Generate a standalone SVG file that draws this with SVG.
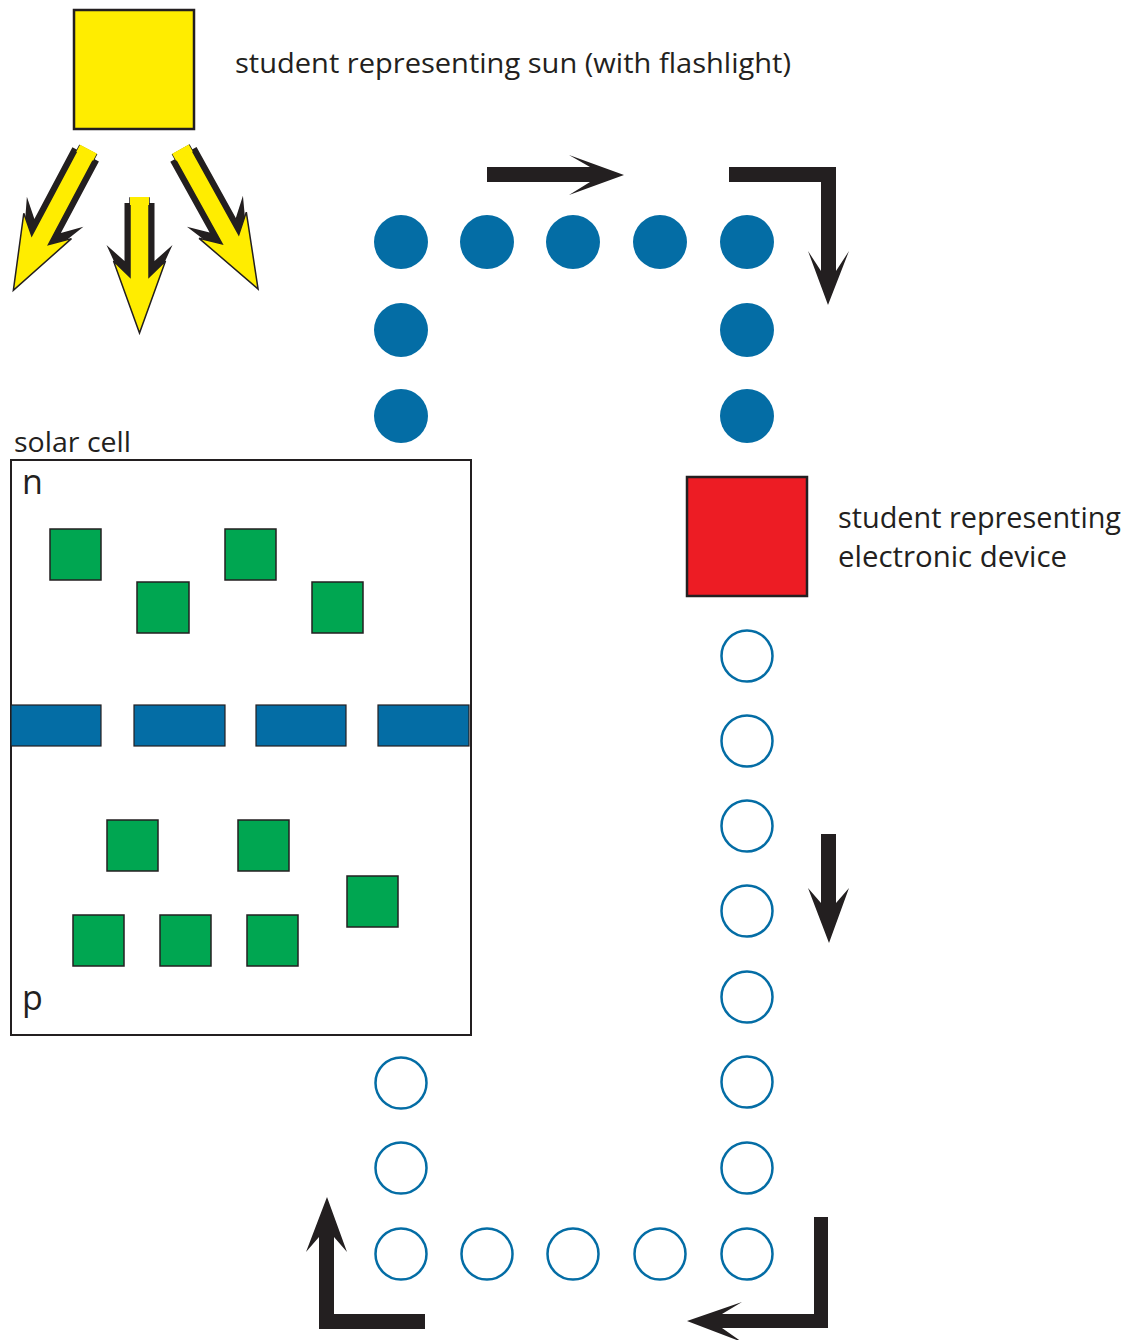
<svg xmlns="http://www.w3.org/2000/svg" width="1139" height="1340" viewBox="0 0 1139 1340">
<style>
.lbl{font-family:"Open Sans","Noto Sans","Liberation Sans",sans-serif;fill:#231F20;}
.sq{stroke:#231F20;stroke-width:2.5;}
.grn{fill:#00A651;stroke:#231F20;stroke-width:1.5;}
.bar{fill:#046DA5;stroke:#231F20;stroke-width:1.2;}
.e{fill:#046DA5;}
.h{fill:#fff;stroke:#046DA5;stroke-width:2.5;}
.arr{fill:#231F20;}
.ray{fill:#FFED00;stroke:#231F20;stroke-width:1.5;stroke-linejoin:miter;}
.rayb{fill:#231F20;}
.cap{fill:#FFED00;}
</style>
<rect width="1139" height="1340" fill="#fff"/>

<g id="sun">
<rect class="sq" x="74" y="10" width="120" height="119" fill="#FFED00"/>
<text class="lbl" x="235" y="73" font-size="28" textLength="556" lengthAdjust="spacingAndGlyphs">student representing sun (with flashlight)</text>
</g>

<g id="light-rays">
<g transform="translate(88,150) rotate(28)">
<path class="rayb" d="M-15,5 L15,5 L15,86 L32,70 L0,143 L-32,70 L-15,86 Z"/>
<path class="ray" d="M-9.5,0 L9.5,0 L9.5,102 L27,86 L0,159 L-27,86 L-9.5,102 Z"/>
<rect class="cap" x="-9.5" y="-1" width="19" height="8"/>
</g>
<g transform="translate(139.5,198)">
<path class="rayb" d="M-15,5 L15,5 L15,63 L33,47 L0,119 L-33,47 L-15,63 Z"/>
<path class="ray" d="M-9.5,0 L9.5,0 L9.5,79 L26,63 L0,135 L-26,63 L-9.5,79 Z"/>
<rect class="cap" x="-9.5" y="-1" width="19" height="8"/>
</g>
<g transform="translate(181,150) rotate(-29)">
<path class="rayb" d="M-15,5 L15,5 L15,86 L32,70 L0,143 L-32,70 L-15,86 Z"/>
<path class="ray" d="M-9.5,0 L9.5,0 L9.5,102 L27,86 L0,159 L-27,86 L-9.5,102 Z"/>
<rect class="cap" x="-9.5" y="-1" width="19" height="8"/>
</g>
</g>

<g id="device">
<rect class="sq" x="687" y="477" width="120" height="119" fill="#ED1C24"/>
<text class="lbl" x="838" y="528" font-size="30" textLength="283" lengthAdjust="spacingAndGlyphs">student representing</text>
<text class="lbl" x="838" y="567" font-size="30" textLength="229" lengthAdjust="spacingAndGlyphs">electronic device</text>
</g>

<g id="solar-cell">
<text class="lbl" x="14" y="452" font-size="27" textLength="117" lengthAdjust="spacingAndGlyphs">solar cell</text>
<rect x="11" y="460" width="460" height="575" fill="none" stroke="#231F20" stroke-width="2"/>
<text class="lbl" x="22" y="494" font-size="34">n</text>
<text class="lbl" x="22" y="1010" font-size="34">p</text>
<rect class="grn" x="50" y="529" width="51" height="51"/>
<rect class="grn" x="225" y="529" width="51" height="51"/>
<rect class="grn" x="137" y="582" width="52" height="51"/>
<rect class="grn" x="312" y="582" width="51" height="51"/>
<rect class="bar" x="11" y="705" width="90" height="41"/>
<rect class="bar" x="134" y="705" width="91" height="41"/>
<rect class="bar" x="256" y="705" width="90" height="41"/>
<rect class="bar" x="378" y="705" width="91" height="41"/>
<rect class="grn" x="107" y="820" width="51" height="51"/>
<rect class="grn" x="238" y="820" width="51" height="51"/>
<rect class="grn" x="347" y="876" width="51" height="51"/>
<rect class="grn" x="73" y="915" width="51" height="51"/>
<rect class="grn" x="160" y="915" width="51" height="51"/>
<rect class="grn" x="247" y="915" width="51" height="51"/>
</g>

<g id="electrons">
<circle class="e" cx="401" cy="242" r="27"/>
<circle class="e" cx="487" cy="242" r="27"/>
<circle class="e" cx="573" cy="242" r="27"/>
<circle class="e" cx="660" cy="242" r="27"/>
<circle class="e" cx="747" cy="242" r="27"/>
<circle class="e" cx="401" cy="330" r="27"/>
<circle class="e" cx="401" cy="416" r="27"/>
<circle class="e" cx="747" cy="330" r="27"/>
<circle class="e" cx="747" cy="416" r="27"/>
</g>

<g id="holes">
<circle class="h" cx="747" cy="656" r="25.5"/>
<circle class="h" cx="747" cy="741" r="25.5"/>
<circle class="h" cx="747" cy="826" r="25.5"/>
<circle class="h" cx="747" cy="911" r="25.5"/>
<circle class="h" cx="747" cy="997" r="25.5"/>
<circle class="h" cx="747" cy="1082" r="25.5"/>
<circle class="h" cx="747" cy="1168" r="25.5"/>
<circle class="h" cx="747" cy="1254" r="25.5"/>
<circle class="h" cx="660" cy="1254" r="25.5"/>
<circle class="h" cx="573" cy="1254" r="25.5"/>
<circle class="h" cx="487" cy="1254" r="25.5"/>
<circle class="h" cx="401" cy="1254" r="25.5"/>
<circle class="h" cx="401" cy="1168" r="25.5"/>
<circle class="h" cx="401" cy="1083" r="25.5"/>
</g>

<g id="connectors">
<path class="arr" d="M487,167 L590,167 L569,155 L624,175 L569,195 L590,182 L487,182 Z"/>
<path class="arr" d="M729,167 L836,167 L836,271 L849,251 L828,305 L808,251 L821,271 L821,182 L729,182 Z"/>
<path class="arr" d="M821,834 L836,834 L836,903 L849,888 L829,943 L808,888 L821,903 Z"/>
<path class="arr" d="M814,1217 L828,1217 L828,1328 L722,1328 L742,1342 L687,1321 L742,1302 L722,1314 L814,1314 Z"/>
<path class="arr" d="M425,1314 L425,1329 L319,1329 L319,1237 L306,1252 L327,1197 L347,1252 L334,1237 L334,1314 Z"/>
</g>
</svg>
